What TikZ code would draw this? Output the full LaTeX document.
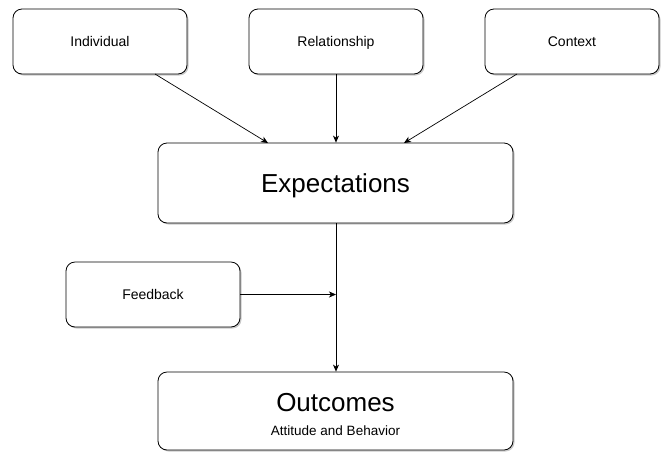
\documentclass[tikz,border=0pt]{standalone}
\usepackage{fontspec}
\setmainfont{Liberation Sans}
\usetikzlibrary{arrows.meta,shadows}
\begin{document}
\begin{tikzpicture}[x=1pt,y=-1pt,
  box/.style={draw=black,line width=0.8pt,fill=white,rounded corners=9pt,text depth=0pt,
    drop shadow={shadow xshift=1.5pt,shadow yshift=-1.5pt,fill=black!35,opacity=0.6}},
  arr/.style={draw=black,line width=0.7pt,-{Stealth[length=7pt,width=6pt,inset=2pt]}},
  small/.style={font=\fontsize{14}{16}\selectfont},
  big/.style={font=\fontsize{26}{30}\selectfont},
  plain/.style={inner sep=0pt,align=center,font=\fontsize{13.5}{16}\selectfont}]
\useasboundingbox (0,0) rectangle (662,451);
\node[box,small,minimum width=174pt,minimum height=65pt] (ind) at (100,41.5) {Individual};
\node[box,small,minimum width=174pt,minimum height=65pt] (rel) at (336,41.5) {Relationship};
\node[box,small,minimum width=174pt,minimum height=65pt] (ctx) at (572,41.5) {Context};
\node[box,big,minimum width=355pt,minimum height=80pt] (exp) at (335.5,183) {Expectations};
\node[box,small,minimum width=174pt,minimum height=65pt] (fb) at (153,294.5) {Feedback};
\node[box,minimum width=355pt,minimum height=78pt] (out) at (335.5,411) {};
\node[plain] (outtxt) at (335.5,414) {{\fontsize{26}{30}\selectfont Outcomes}\\[8pt]Attitude and Behavior};
\coordinate (j) at (336,294.5);
\coordinate (s1) at (155,74);
\coordinate (e1) at (268,143);
\coordinate (s3) at (517,74);
\coordinate (e3) at (404,143);
\draw[arr] (s1) -- (e1);
\draw[arr] (rel.south) -- (exp.north -| rel.south);
\draw[arr] (s3) -- (e3);
\draw[arr] (exp.south -| rel.south) -- (out.north -| rel.south);
\draw[arr] (fb.east) -- (j);
\end{tikzpicture}
\end{document}
